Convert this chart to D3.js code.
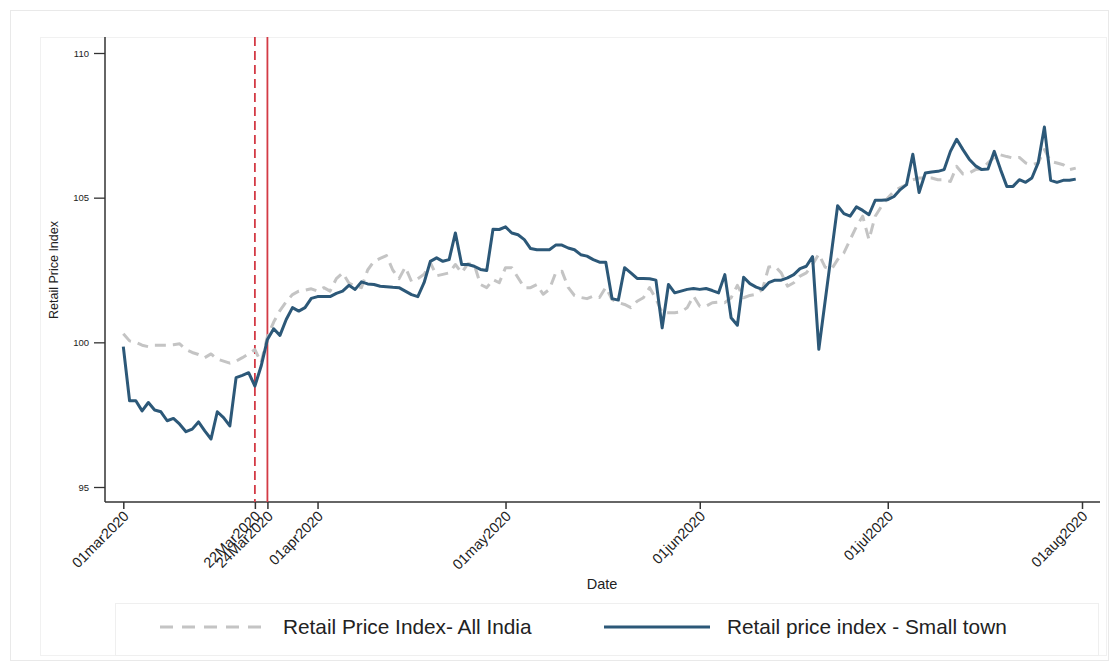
<!DOCTYPE html>
<html><head><meta charset="utf-8">
<script src="https://cdn.jsdelivr.net/npm/d3@7"></script>
<style>body{margin:0;background:#fff}text{font-family:"Liberation Sans",Arial,Helvetica,sans-serif;fill:#222}</style>
</head><body>
<svg id="c" width="1118" height="672"></svg>
<script>
const startDate = "2020-03-01";
const allIndiaValues = [100.3,100.05,100.0,99.9,99.85,99.9,99.9,99.9,99.92,99.95,
99.75,99.65,99.58,99.47,99.6,99.42,99.35,99.28,99.35,99.47,
99.6,99.75,99.3,100.2,100.7,101.1,101.4,101.65,101.77,101.8,
101.85,101.77,101.89,101.77,102.2,102.4,102.05,101.94,101.89,102.5,
102.8,102.9,103.0,102.5,102.2,102.6,102.1,102.2,102.35,102.75,
102.3,102.35,102.4,102.69,102.4,102.72,102.69,102.0,101.89,102.17,
102.06,102.58,102.58,102.23,101.89,101.89,102.0,101.66,101.83,102.4,
102.46,101.9,101.62,101.55,101.51,101.6,101.55,101.9,101.48,101.37,
101.31,101.2,101.42,101.54,101.89,101.5,101.02,101.02,101.02,101.05,
101.2,101.6,101.25,101.25,101.37,101.39,101.37,101.54,101.97,101.54,
101.62,101.66,101.83,102.6,102.63,102.4,101.94,102.06,102.29,102.4,
102.69,103.05,102.6,102.52,102.86,103.09,103.55,104.0,104.36,103.55,
104.36,104.7,104.99,105.22,105.35,105.45,105.62,105.68,105.68,105.68,
105.62,105.62,105.56,106.08,105.82,105.85,105.97,106.0,106.2,106.4,
106.48,106.42,106.37,106.39,106.2,106.14,106.2,106.66,106.25,106.2,
106.14,105.97,106.02];
const smallTownValues = [99.85,97.98,97.98,97.63,97.92,97.66,97.6,97.29,97.37,97.17,
96.91,97.0,97.25,96.94,96.66,97.6,97.4,97.11,98.78,98.86,
98.95,98.49,99.18,100.1,100.47,100.24,100.79,101.2,101.08,101.2,
101.52,101.58,101.58,101.58,101.69,101.77,101.97,101.83,102.09,102.02,
102.0,101.94,101.92,101.9,101.89,101.77,101.65,101.58,102.06,102.8,
102.92,102.8,102.86,103.78,102.69,102.69,102.63,102.52,102.48,103.91,
103.9,103.99,103.78,103.72,103.55,103.24,103.2,103.2,103.2,103.36,
103.36,103.26,103.2,103.03,102.98,102.86,102.77,102.77,101.51,101.46,
102.58,102.4,102.21,102.21,102.2,102.15,100.5,102.0,101.71,101.77,
101.83,101.86,101.83,101.86,101.79,101.71,102.34,100.85,100.59,102.25,
102.03,101.91,101.83,102.06,102.15,102.15,102.23,102.34,102.55,102.63,
102.96,99.76,null,null,104.72,104.45,104.36,104.68,104.56,104.41,
104.91,104.91,104.93,105.04,105.28,105.45,106.5,105.18,105.85,105.89,
105.91,105.97,106.6,107.02,106.66,106.33,106.1,105.97,105.99,106.6,
105.97,105.39,105.39,105.62,105.53,105.68,106.2,107.44,105.6,105.53,
105.6,105.6,105.64];
const tickDates = ["2020-03-01","2020-03-22","2020-03-24","2020-04-01","2020-05-01","2020-06-01","2020-07-01","2020-08-01"];
const tickLabels = ["01mar2020","22Mar2020","24Mar2020","01apr2020","01may2020","01jun2020","01jul2020","01aug2020"];
const yTicks = [95, 100, 105, 110];
const eventDates = ["2020-03-22", "2020-03-24"];
const seriesNames = ["Retail Price Index- All India", "Retail price index - Small town"];

const parse = d3.utcParse("%Y-%m-%d");
const t0 = parse(startDate);
const svg = d3.select("#c");

// frames
svg.append("rect").attr("x",10.5).attr("y",10.5).attr("width",1098).attr("height",650)
  .attr("fill","#fff").attr("stroke","#e9e9e9");
svg.append("rect").attr("x",40.5).attr("y",37.5).attr("width",1066).attr("height",618)
  .attr("fill","#fff").attr("stroke","#f1f1f1");

const x = d3.scaleUtc().domain([parse("2020-03-01"), parse("2020-08-01")]).range([123.3, 1082]);
const y = d3.scaleLinear().domain([95, 110]).range([487, 53]);
const xLeft = 105, xRight = 1100, yTop = 37, yBottom = 502;

// axes
const gy = svg.append("g").attr("transform", `translate(${xLeft},0)`)
  .call(d3.axisLeft(y).tickValues(yTicks).tickSize(11).tickPadding(5));
gy.select(".domain").remove();
gy.selectAll("line").attr("stroke","#333").attr("stroke-width",1.3);
gy.selectAll("text").style("font-size","9.5px").attr("fill","#333");
svg.append("line").attr("x1",xLeft).attr("x2",xLeft).attr("y1",yTop).attr("y2",yBottom)
  .attr("stroke","#333").attr("stroke-width",1.5);

const gx = svg.append("g").attr("transform", `translate(0,${yBottom})`)
  .call(d3.axisBottom(x).tickValues(tickDates.map(parse)).tickSize(7)
    .tickFormat((d,i)=>tickLabels[i]));
gx.select(".domain").remove();
gx.selectAll("line").attr("stroke","#333").attr("stroke-width",1.5);
gx.selectAll("text").style("font-size","14.5px").attr("fill","#333")
  .attr("text-anchor","end").attr("dy",null).attr("y",null)
  .attr("transform","translate(6,15) rotate(-45)");
svg.append("line").attr("x1",xLeft).attr("x2",xRight).attr("y1",yBottom).attr("y2",yBottom)
  .attr("stroke","#333").attr("stroke-width",1.5);

svg.append("text").attr("transform","translate(58,270) rotate(-90)").attr("text-anchor","middle")
  .style("font-size","12.5px").text("Retail Price Index");
svg.append("text").attr("x",602).attr("y",589).attr("text-anchor","middle")
  .style("font-size","14.5px").text("Date");

// event lines
svg.selectAll(".ev").data(eventDates).enter().append("line")
  .attr("x1",d=>x(parse(d))).attr("x2",d=>x(parse(d)))
  .attr("y1",yTop).attr("y2",yBottom)
  .attr("stroke","#d33a45").attr("stroke-width",1.8)
  .attr("stroke-dasharray",(d,i)=> i===0 ? "9,5" : null);

// series
const line = d3.line().x(d=>x(d.date)).y(d=>y(d.v));
const aiData = allIndiaValues.map((v,i)=>({date:d3.utcDay.offset(t0,i), v}));
const stData = smallTownValues.map((v,i)=>({date:d3.utcDay.offset(t0,i), v})).filter(d=>d.v!==null);

svg.append("path").datum(aiData).attr("d",line).attr("fill","none")
  .attr("stroke","#c4c4c4").attr("stroke-width",3).attr("stroke-dasharray","11,7")
  .attr("stroke-linejoin","round");
svg.append("path").datum(stData).attr("d",line).attr("fill","none")
  .attr("stroke","#2c5878").attr("stroke-width",3).attr("stroke-linejoin","round");

// legend
svg.append("rect").attr("x",115.5).attr("y",603.5).attr("width",983).attr("height",52)
  .attr("fill","none").attr("stroke","#efefef");
const lg = [{x0:160,x1:265,tx:283,c:"#c4c4c4",dash:"13,9"},{x0:604,x1:710,tx:727,c:"#2c5878",dash:null}];
lg.forEach((l,i)=>{
  svg.append("line").attr("x1",l.x0).attr("x2",l.x1).attr("y1",627).attr("y2",627)
    .attr("stroke",l.c).attr("stroke-width",3).attr("stroke-dasharray",l.dash);
  svg.append("text").attr("x",l.tx).attr("y",634).style("font-size","20.8px").text(seriesNames[i]);
});
</script>
</body></html>
